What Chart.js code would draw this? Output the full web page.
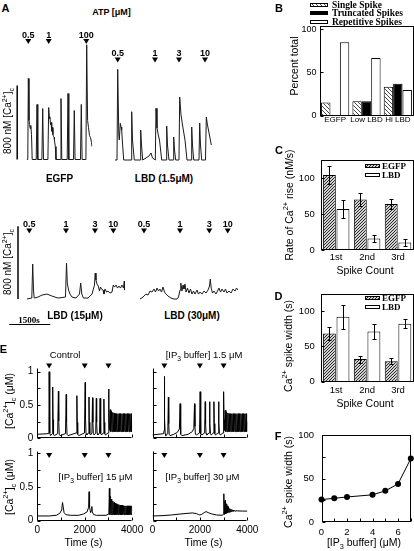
<!DOCTYPE html>
<html><head><meta charset="utf-8"><title>Ca2+ spikes figure</title>
<script src="https://cdn.jsdelivr.net/npm/chart.js@4.4.1/dist/chart.umd.min.js"></script>
<style>
html,body{margin:0;padding:0;background:#fff;}
#fig{position:relative;width:414px;height:551px;overflow:hidden;background:#fff;color:#000;font-family:"Liberation Sans",Arial,Helvetica,sans-serif;}
#fig canvas{position:absolute;}
.t{position:absolute;white-space:nowrap;line-height:1;transform:translate(-50%,-50%);}
.t.r{transform:translate(-50%,-50%) rotate(-90deg);}
.b{font-weight:bold;}
.s{font-family:"Liberation Serif","Times New Roman",serif;}
.t sup,.t sub{font-size:70%;line-height:0;}
</style></head>
<body><div id="fig"></div>
<script>
// ---------------- DATA ----------------
// Panel A: ATP-evoked [Ca2+]c traces, [time (s), [Ca2+] (nM)]
const traceEGFP = [[0,60],[40,60],[60,936],[84,482],[106,438],[128,395],[150,428],[176,330],[201,60],[348,60],[377,655],[406,60],[556,60],[586,611],[615,60],[776,60],[805,622],[834,503],[850,520],[871,438],[890,460],[908,363],[925,400],[944,406],[960,330],[981,309],[1000,300],[1017,265],[1047,200],[1072,60],[1226,60],[1255,719],[1285,60],[1482,60],[1512,773],[1541,60],[1713,60],[1742,590],[1771,60],[1969,60],[1998,655],[2028,60],[2167,60],[2196,1300],[2229,482],[2262,406],[2298,320],[2335,298],[2372,244],[2390,200]];
const traceLBD1_5 = [[0,60],[73,60],[99,1040],[139,330],[157,276],[194,457],[220,417],[245,384],[267,276],[318,60],[586,60],[611,582],[641,276],[706,60],[915,60],[940,384],[970,222],[1014,60],[1135,82],[1244,103],[1318,136],[1372,82],[1475,60],[1501,619],[1537,406],[1585,330],[1629,276],[1709,60],[1867,60],[1892,428],[1921,222],[1976,60],[2123,60],[2148,309],[2178,168],[2222,60],[2342,60],[2368,741],[2416,546],[2489,406],[2562,276],[2635,60],[2782,60],[2807,417],[2837,222],[2880,60],[3074,60],[3100,460],[3129,222],[3173,60],[3312,60],[3342,525],[3386,438],[3441,352],[3477,298],[3525,222]];
const traceLBD15 = [[0,60],[187,71],[220,445],[249,159],[275,71],[414,82],[560,104],[743,115],[926,93],[1146,71],[1420,82],[1457,456],[1486,236],[1530,159],[1585,115],[1658,82],[1804,71],[1932,115],[1976,236],[2017,115],[2079,71],[2244,71],[2390,115],[2481,214],[2507,346],[2536,269],[2573,225],[2621,203],[2664,148],[2701,192],[2738,170],[2793,159],[2829,115],[2866,170],[2921,137],[2976,148],[3048,126],[3122,137],[3169,214],[3213,192],[3268,214],[3323,181],[3378,203],[3433,181],[3488,214],[3543,181],[3572,258],[3587,159]];
const traceLBD30 = [[0,60],[110,82],[220,115],[293,104],[366,148],[439,137],[512,170],[567,137],[622,181],[677,148],[732,170],[787,137],[842,192],[897,137],[952,115],[1025,93],[1135,71],[1244,60],[1354,60],[1409,82],[1464,159],[1493,236],[1537,148],[1574,214],[1610,170],[1647,225],[1684,137],[1739,181],[1793,126],[1848,170],[1903,115],[1958,148],[2013,115],[2086,159],[2141,115],[2196,137],[2269,115],[2342,148],[2416,126],[2489,159],[2544,203],[2573,280],[2606,181],[2654,126],[2708,148],[2782,115],[2837,148],[2891,181],[2946,137],[3001,170],[3074,137],[3129,170],[3184,126],[3257,148],[3331,126],[3404,170],[3477,148],[3532,181],[3587,159]];
// ATP additions (time s) and concentrations (uM)
const atpEGFP = [59, 805, 2181];
const atpEGFPLabels = ['0.5', '1', '100'];
const atpLBD1_5 = [99, 1464, 2342, 3294];
const atpLBD15 = [95, 1438, 2500, 3170];
const atpLBD30 = [146, 1464, 2536, 3210];
const atpLBDLabels = ['0.5', '1', '3', '10'];

// Panel B: percent of cells
const bCategories = ['EGFP', 'Low LBD', 'Hi LBD'];
const bSingle = [15, 16.7, 33.3];
const bTruncated = [0, 16.7, 37];
const bRepetitive = [85, 66.7, 29.7];
const bTicks = [0, 50, 100];

// Panels C, D: by spike count
const spikeCats = ['1st', '2nd', '3rd'];
const cEGFP = [104, 70, 64];
const cEGFPErr = [12, 9, 7.5];
const cLBD = [57, 16, 10.5];
const cLBDErr = [13, 4.5, 4.5];
const dEGFP = [68, 32, 29];
const dEGFPErr = [9, 5, 4];
const dLBD = [92, 71, 82];
const dLBDErr = [17, 10, 6];
const cdTicks = [0, 50, 100];

// Panel E: simulated [Ca2+]c traces, [time (s), [Ca2+] (uM)]
const eControl = [[0,0.06],[470,0.07],[490,0.12],[500,1.0],[515,0.35],[535,0.08],[560,0.04],[630,0.07],[650,0.77],[665,0.28],[685,0.06],[720,0.04],[860,0.07],[890,0.71],[905,0.26],[925,0.06],[960,0.04],[1190,0.07],[1220,0.66],[1235,0.24],[1255,0.06],[1300,0.04],[1640,0.08],[1670,0.64],[1685,0.24],[1705,0.06],[1750,0.04],[1990,0.08],[2020,0.84],[2035,0.3],[2055,0.07],[2090,0.05],[2155,0.08],[2180,0.62],[2195,0.24],[2215,0.07],[2245,0.05],[2305,0.08],[2330,0.61],[2345,0.24],[2365,0.07],[2395,0.05],[2465,0.08],[2490,0.6],[2505,0.24],[2525,0.07],[2555,0.05],[2625,0.08],[2650,0.6],[2665,0.24],[2685,0.07],[2715,0.05],[2785,0.08],[2810,0.59],[2825,0.24],[2845,0.07],[2875,0.05],[2985,0.08],[3010,0.74],[3025,0.3],[3045,0.12],[3075,0.43],[3100,0.1],[3130,0.41],[3155,0.1],[3185,0.39],[3210,0.1],[3240,0.38],[3265,0.1],[3295,0.37],[3320,0.1],[3350,0.37],[3375,0.1],[3405,0.37],[3430,0.1],[3460,0.37],[3485,0.1],[3515,0.37],[3540,0.1],[3570,0.37],[3595,0.1],[3625,0.37],[3650,0.1],[3680,0.37],[3705,0.1],[3735,0.37],[3760,0.1],[3790,0.37],[3815,0.1],[3845,0.37],[3870,0.1],[3900,0.37],[3925,0.1],[3955,0.37],[3980,0.1],[4000,0.22]];
const eBuf1_5 = [[0,0.05],[470,0.07],[490,0.12],[500,0.93],[515,0.3],[535,0.07],[560,0.04],[645,0.07],[670,0.62],[685,0.22],[705,0.06],[740,0.04],[900,0.06],[1050,0.09],[1135,0.14],[1164,0.52],[1180,0.18],[1200,0.06],[1240,0.04],[1500,0.06],[1680,0.1],[1745,0.15],[1772,0.52],[1790,0.18],[1810,0.06],[1850,0.05],[1985,0.08],[2010,0.7],[2025,0.26],[2045,0.07],[2080,0.05],[2200,0.08],[2224,0.55],[2240,0.22],[2260,0.07],[2290,0.05],[2385,0.08],[2408,0.55],[2425,0.22],[2445,0.07],[2475,0.05],[2565,0.08],[2591,0.55],[2608,0.22],[2628,0.07],[2658,0.05],[2765,0.08],[2789,0.55],[2805,0.22],[2825,0.07],[2855,0.05],[2975,0.08],[3001,0.7],[3018,0.28],[3040,0.12],[3070,0.42],[3097,0.1],[3125,0.39],[3152,0.1],[3180,0.38],[3207,0.1],[3235,0.37],[3262,0.1],[3290,0.37],[3317,0.1],[3345,0.37],[3372,0.1],[3400,0.37],[3427,0.1],[3455,0.37],[3482,0.1],[3510,0.37],[3537,0.1],[3565,0.37],[3592,0.1],[3620,0.37],[3647,0.1],[3675,0.37],[3702,0.1],[3730,0.37],[3757,0.1],[3785,0.37],[3812,0.1],[3840,0.37],[3867,0.1],[3895,0.37],[3922,0.1],[3950,0.37],[3977,0.1],[4000,0.25]];
const eBuf15 = [[0,0.07],[500,0.07],[800,0.08],[950,0.11],[1030,0.16],[1065,0.27],[1090,0.21],[1130,0.12],[1200,0.09],[1400,0.08],[1750,0.08],[1950,0.1],[2100,0.13],[2165,0.2],[2185,0.43],[2205,0.2],[2250,0.12],[2285,0.15],[2300,0.21],[2320,0.13],[2380,0.09],[2500,0.08],[2900,0.08],[3020,0.1],[3040,0.48],[3060,0.09],[3090,0.36],[3110,0.09],[3140,0.32],[3160,0.09],[3190,0.29],[3210,0.09],[3240,0.27],[3260,0.09],[3290,0.26],[3310,0.09],[3340,0.25],[3360,0.09],[3390,0.24],[3410,0.09],[3440,0.24],[3460,0.09],[3490,0.23],[3510,0.09],[3540,0.23],[3560,0.09],[3590,0.23],[3610,0.09],[3640,0.22],[3660,0.09],[3690,0.22],[3710,0.09],[3740,0.22],[3760,0.09],[3790,0.22],[3810,0.09],[3840,0.22],[3860,0.09],[3890,0.22],[3910,0.09],[3940,0.22],[3960,0.09],[3990,0.22],[4000,0.15]];
const eBuf30 = [[0,0.07],[400,0.075],[800,0.085],[1200,0.1],[1500,0.11],[1700,0.115],[1850,0.105],[1950,0.09],[2000,0.085],[2080,0.095],[2180,0.12],[2260,0.135],[2350,0.12],[2500,0.1],[2700,0.085],[2950,0.08],[2995,0.1],[3010,0.4],[3030,0.09],[3060,0.3],[3082,0.1],[3110,0.25],[3132,0.11],[3160,0.22],[3182,0.12],[3210,0.2],[3232,0.125],[3260,0.18],[3282,0.13],[3310,0.17],[3332,0.135],[3360,0.16],[3382,0.14],[3410,0.155],[3432,0.14],[3460,0.15],[3482,0.143],[3520,0.147],[3600,0.145],[3800,0.143],[4000,0.142]];
const eArrows = [500, 2000, 3000];
const eYLabels = [0, 0.5, 1];
const eYMinor = [0, 0.25, 0.5, 0.75, 1];
const eXLabels = [0, 2000, 4000];
const eXMinor = [0, 1000, 2000, 3000, 4000];

// Panel F
const fBuffer = [0, 1, 2, 4, 5, 6, 7];
const fWidth = [26, 27.5, 29, 31.5, 36, 44, 73];
const fXLabels = [0, 2, 4, 6];
const fXMinor = [0, 1, 2, 3, 4, 5, 6, 7];
const fYLabels = [0, 50, 100];
const fYMinor = [0, 25, 50, 75, 100];

// ---------------- LAYOUT CONSTANTS ----------------
const SEC_PX = 36.6;      // panel A: seconds per pixel (1500 s bar)
const NM_PX_TOP = 10.81;  // panel A top row: nM per pixel
const NM_PX_BOT = 11;     // panel A bottom row: nM per pixel

// ---------------- HELPERS ----------------
const fig = document.getElementById('fig');
Chart.defaults.font.family = '"Liberation Sans", Arial, Helvetica, sans-serif';
Chart.defaults.color = '#000';

function cv(L, T, W, H) {
  const c = document.createElement('canvas');
  c.width = W; c.height = H;
  c.style.left = L + 'px'; c.style.top = T + 'px';
  c.style.width = W + 'px'; c.style.height = H + 'px';
  fig.appendChild(c);
  return c;
}
function txt(html, x, y, size, cls) {
  const d = document.createElement('div');
  d.className = 't ' + (cls || '');
  d.style.left = x + 'px'; d.style.top = y + 'px'; d.style.fontSize = size + 'px';
  d.innerHTML = html;
  fig.appendChild(d);
}
const xy = pairs => pairs.map(p => ({x: p[0], y: p[1]}));
function hatch(bg, fg, s, fwd) {
  const c = document.createElement('canvas'); c.width = c.height = s;
  const g = c.getContext('2d');
  g.fillStyle = bg; g.fillRect(0, 0, s, s);
  g.strokeStyle = fg; g.lineWidth = 1; g.beginPath();
  for (const o of [-s, 0, s]) {
    if (fwd) { g.moveTo(o, s); g.lineTo(o + s, 0); } else { g.moveTo(o, 0); g.lineTo(o + s, s); }
  }
  g.stroke();
  return g.createPattern(c, 'repeat');
}

const deco = { id: 'deco', afterDatasetsDraw(chart, args, o) {
  if (!o) return;
  const ctx = chart.ctx, a = chart.chartArea, xs = chart.scales.x, ys = chart.scales.y;
  const L = Math.round(a.left) + .5, R = Math.round(a.right) - .5, T = Math.round(a.top) + .5, B = Math.round(a.bottom) - .5;
  ctx.save(); ctx.strokeStyle = '#000'; ctx.fillStyle = '#000'; ctx.lineWidth = 1;
  const seg = (x1, y1, x2, y2) => { ctx.beginPath(); ctx.moveTo(x1, y1); ctx.lineTo(x2, y2); ctx.stroke(); };
  if (o.box) ctx.strokeRect(L, T, R - L, B - T);
  if (o.axes) { seg(L, T, L, B); seg(L, B, R, B); }
  const tk = o.tick || 3;
  if (o.yTicks) o.yTicks.forEach(v => { const y = Math.round(ys.getPixelForValue(v)) + .5; seg(L, y, L + tk, y); });
  if (o.xTicks) o.xTicks.forEach(v => { const x = Math.round(xs.getPixelForValue(v)) + .5; seg(x, B, x, B - tk); });
  if (o.bar) { ctx.lineWidth = 1.5; const x = a.left - o.bar.dx; seg(x, ys.getPixelForValue(o.bar.from), x, ys.getPixelForValue(o.bar.to)); ctx.lineWidth = 1; }
  if (o.tbar) { const y = Math.round(a.bottom + o.tbar.dy) + .5; seg(xs.getPixelForValue(o.tbar.from), y, xs.getPixelForValue(o.tbar.to), y); }
  if (o.arrows) {
    const tipY = ys.getPixelForValue(o.arrowY);
    o.arrows.forEach((t, i) => {
      const x = xs.getPixelForValue(t);
      ctx.beginPath(); ctx.moveTo(x - 3, tipY - 5); ctx.lineTo(x + 3, tipY - 5); ctx.lineTo(x, tipY); ctx.closePath(); ctx.fill();
      if (o.labels) { ctx.font = o.font; ctx.textAlign = 'center'; ctx.textBaseline = 'alphabetic'; ctx.fillText(o.labels[i], x, tipY - 6.5); }
    });
  }
  ctx.restore();
}};
const swatches = { id: 'swatches', afterDraw(chart, args, o) {
  if (!o || !o.ys) return;
  const ctx = chart.ctx; ctx.save();
  chart.data.datasets.forEach((ds, i) => {
    const y = o.ys[i], top = Math.round(y - o.h / 2);
    ctx.fillStyle = ds.backgroundColor; ctx.fillRect(o.x, top, o.w, o.h);
    ctx.strokeStyle = '#000'; ctx.lineWidth = 1; ctx.strokeRect(o.x + .5, top + .5, o.w - 1, o.h - 1);
    ctx.fillStyle = '#000'; ctx.font = o.font; ctx.textAlign = 'left'; ctx.textBaseline = 'middle';
    ctx.fillText(ds.label, o.x + o.w + o.gap, y + .5);
  });
  ctx.restore();
}};
const errbars = { id: 'errbars', afterDatasetsDraw(chart, args, o) {
  if (!o || !o.errors) return;
  const ctx = chart.ctx, ys = chart.scales.y; ctx.save(); ctx.strokeStyle = '#000'; ctx.lineWidth = 1;
  chart.data.datasets.forEach((ds, i) => {
    chart.getDatasetMeta(i).data.forEach((bar, j) => {
      const v = ds.data[j], e = o.errors[i][j];
      const x = Math.round(bar.x) + .5, y1 = Math.round(ys.getPixelForValue(v + e)) + .5, y2 = Math.round(ys.getPixelForValue(v - e)) + .5;
      ctx.beginPath(); ctx.moveTo(x, y1); ctx.lineTo(x, y2);
      ctx.moveTo(x - o.cap, y1); ctx.lineTo(x + o.cap, y1);
      ctx.moveTo(x - o.cap, y2); ctx.lineTo(x + o.cap, y2); ctx.stroke();
    });
  });
  ctx.restore();
}};

function hidden(min, max) { return {type: 'linear', display: false, min, max}; }
function linAxis(min, max, labels, size, padding) {
  return {type: 'linear', display: true, min, max, grid: {display: false, drawTicks: false}, border: {display: false},
    ticks: {font: {size}, padding, color: '#000', callback: v => String(v)},
    afterBuildTicks: s => { s.ticks = labels.map(v => ({value: v})); }};
}
function catAxis(size, padding) {
  return {type: 'category', display: true, grid: {display: false, drawTicks: false}, border: {display: false},
    ticks: {font: {size}, padding, color: '#000', autoSkip: false, maxRotation: 0, minRotation: 0}};
}
function chartAt(box, area, type, data, xOpt, yOpt, plug, dsOpts) {
  const [L, T, W, H] = box, [ax, ay, aw, ah] = area;
  const c = cv(L, T, W, H);
  const leftW = ax - L, botH = T + H - (ay + ah);
  const pad = {top: ay - T, right: L + W - (ax + aw), left: yOpt.display ? 0 : leftW, bottom: xOpt.display ? 0 : botH};
  const zero = s => { s.paddingTop = 0; s.paddingBottom = 0; s.paddingLeft = 0; s.paddingRight = 0; };
  if (yOpt.display) yOpt.afterFit = s => { s.width = leftW; zero(s); };
  if (xOpt.display) xOpt.afterFit = s => { s.height = botH; zero(s); };
  return new Chart(c, {
    type, data,
    options: {
      responsive: false, maintainAspectRatio: false, animation: false, devicePixelRatio: 1, events: [],
      layout: {padding: pad, autoPadding: false},
      scales: {x: xOpt, y: yOpt},
      datasets: dsOpts || {},
      plugins: Object.assign({legend: {display: false}, tooltip: {enabled: false}}, plug)
    },
    plugins: [deco, swatches, errbars]
  });
}
const traceDS = pts => ({data: xy(pts), borderColor: '#1a1a1a', borderWidth: 1, pointRadius: 0, borderJoinStyle: 'round', fill: false});
const eDS = pts => ({data: xy(pts), borderColor: '#000', borderWidth: 1, pointRadius: 0, borderJoinStyle: 'round', fill: false});

// ---------------- PANEL A ----------------
const aFont = 'bold 9px "Liberation Sans", Arial, sans-serif';
chartAt([0, 20, 96, 150], [26.7, 30, 2400 / SEC_PX, 1460 / NM_PX_TOP], 'line', {datasets: [traceDS(traceEGFP)]},
  hidden(0, 2400), hidden(0, 1460),
  {deco: {arrows: atpEGFP, labels: atpEGFPLabels, arrowY: 1308, font: aFont, bar: {from: 60, to: 860, dx: 9.5}}});
chartAt([110, 20, 106, 150], [115, 30.5, 3550 / SEC_PX, 1460 / NM_PX_TOP], 'line', {datasets: [traceDS(traceLBD1_5)]},
  hidden(0, 3550), hidden(0, 1460),
  {deco: {arrows: atpLBD1_5, labels: atpLBDLabels, arrowY: 1113, font: aFont}});
chartAt([0, 208, 130, 122], [26.7, 213.6, 3600 / SEC_PX, 1000 / NM_PX_BOT], 'line', {datasets: [traceDS(traceLBD15)]},
  hidden(0, 3600), hidden(0, 1000),
  {deco: {arrows: atpLBD15, labels: atpLBDLabels, arrowY: 781, font: aFont, bar: {from: 60, to: 860, dx: 8.7}, tbar: {from: -640, to: 860, dy: 19.5}}});
chartAt([132, 208, 112, 102], [140, 213.6, 3600 / SEC_PX, 1000 / NM_PX_BOT], 'line', {datasets: [traceDS(traceLBD30)]},
  hidden(0, 3600), hidden(0, 1000),
  {deco: {arrows: atpLBD30, labels: atpLBDLabels, arrowY: 781, font: aFont}});

// ---------------- PANEL B ----------------
const hatchB = hatch('#ffffff', '#4a4a4a', 4, false);
chartAt([280, 0, 134, 130], [319.5, 26, 94, 89.5], 'bar', {labels: bCategories, datasets: [
    {label: 'Single Spike', data: bSingle, backgroundColor: hatchB, borderColor: '#000', borderWidth: 1},
    {label: 'Truncated Spikes', data: bTruncated, backgroundColor: '#000', borderColor: '#000', borderWidth: 1},
    {label: 'Repetitive Spikes', data: bRepetitive, backgroundColor: '#fff', borderColor: '#000', borderWidth: 1}]},
  catAxis(8, -1), linAxis(0, 104, bTicks, 9, 3),
  {deco: {box: true, yTicks: bTicks, tick: 3}, swatches: {x: 30, w: 18, h: 4, gap: 4, ys: [5, 13.3, 21.7], font: 'bold 9.5px "Liberation Serif", "Times New Roman", serif'}},
  {bar: {categoryPercentage: 0.9, barPercentage: 1}});

// ---------------- PANELS C, D ----------------
const hatchCD = hatch('#d0d0d0', '#2a2a2a', 3, true);
const legFont = 'bold 9px "Liberation Serif", "Times New Roman", serif';
chartAt([296, 150, 118, 115], [320.7, 160, 92.8, 90], 'bar', {labels: spikeCats, datasets: [
    {label: 'EGFP', data: cEGFP, backgroundColor: hatchCD, borderColor: '#000', borderWidth: 1},
    {label: 'LBD', data: cLBD, backgroundColor: '#fff', borderColor: '#000', borderWidth: 1}]},
  catAxis(9.5, 2), linAxis(0, 125, cdTicks, 9.5, 6),
  {deco: {box: true, yTicks: cdTicks, tick: 3}, swatches: {x: 69, w: 15, h: 4, gap: 2, ys: [16, 25], font: legFont}, errbars: {errors: [cEGFPErr, cLBDErr], cap: 2}},
  {bar: {categoryPercentage: 0.88, barPercentage: 0.95}});
chartAt([296, 285, 118, 112], [320.7, 294, 92.8, 87.7], 'bar', {labels: spikeCats, datasets: [
    {label: 'EGFP', data: dEGFP, backgroundColor: hatchCD, borderColor: '#000', borderWidth: 1},
    {label: 'LBD', data: dLBD, backgroundColor: '#fff', borderColor: '#000', borderWidth: 1}]},
  catAxis(9.5, 3.3), linAxis(0, 124, cdTicks, 9.5, 6),
  {deco: {box: true, yTicks: cdTicks, tick: 3}, swatches: {x: 69, w: 15, h: 4, gap: 2, ys: [13, 21.7], font: legFont}, errbars: {errors: [dEGFPErr, dLBDErr], cap: 2}},
  {bar: {categoryPercentage: 0.88, barPercentage: 0.95}});

// ---------------- PANEL E ----------------
const eDeco = y => ({axes: true, yTicks: eYMinor, xTicks: eXMinor, tick: 3, arrows: eArrows, arrowY: y});
chartAt([10, 358, 128, 92], [37.3, 368.4, 94.8, 69.9], 'line', {datasets: [eDS(eControl)]},
  hidden(0, 4000), linAxis(0, 1.05, eYLabels, 10, 4), {deco: eDeco(1.05)});
chartAt([145, 358, 106, 92], [152.5, 368.4, 94.8, 69.9], 'line', {datasets: [eDS(eBuf1_5)]},
  hidden(0, 4000), hidden(0, 1.05), {deco: eDeco(1.05)});
chartAt([10, 440, 135, 100], [37.3, 451.3, 94.8, 69.4], 'line', {datasets: [eDS(eBuf15)]},
  linAxis(0, 4000, eXLabels, 10, 3.3), linAxis(0, 1.03, eYLabels, 10, 4), {deco: eDeco(0.93)});
chartAt([145, 440, 115, 100], [152.5, 451.3, 94.8, 69.4], 'line', {datasets: [eDS(eBuf30)]},
  linAxis(0, 4000, eXLabels, 10, 3.3), hidden(0, 1.03), {deco: eDeco(0.93)});

// ---------------- PANEL F ----------------
chartAt([296, 428, 118, 110], [321.5, 435, 89.3, 87.3], 'line', {datasets: [{
    data: fBuffer.map((x, i) => ({x, y: fWidth[i]})), borderColor: '#000', borderWidth: 1,
    pointRadius: 3, pointBackgroundColor: '#000', pointBorderWidth: 0, clip: false}]},
  linAxis(0, 7, fXLabels, 9.5, 4), linAxis(0, 100, fYLabels, 9.5, 7.5),
  {deco: {box: true, yTicks: fYMinor, xTicks: fXMinor, tick: 3}});

// ---------------- TEXT ----------------
txt('A', 5.5, 7.5, 11, 'b');
txt('ATP [μM]', 111.5, 12, 9, 'b');
txt('800 nM [Ca<sup>2+</sup>]<sub>c</sub>', 8, 121, 10, 'r');
txt('EGFP', 59.5, 178.5, 10, 'b');
txt('LBD (1.5μM)', 164, 178.5, 10, 'b');
txt('800 nM [Ca<sup>2+</sup>]<sub>c</sub>', 8, 262, 10, 'r');
txt('LBD (15μM)', 75, 315.5, 10, 'b');
txt('LBD (30μM)', 192, 315.5, 10, 'b');
txt('1500s', 29, 319.5, 9, 'b s');

txt('B', 279, 7.5, 11, 'b');
txt('Percent total', 294, 66, 10.5, 'r');
txt('C', 279, 150, 11, 'b');
txt('Rate of Ca<sup>2+</sup> rise (nM/s)', 288.5, 205, 10.5, 'r');
txt('Spike Count', 365, 270, 10.5);
txt('D', 278.5, 295.5, 11, 'b');
txt('Ca<sup>2+</sup> spike width (s)', 288, 346, 10.5, 'r');
txt('Spike Count', 365, 402.7, 10.5);

txt('E', 3.5, 348.5, 11, 'b');
txt('Control', 65, 355, 9.5);
txt('[IP<sub>3</sub> buffer] 1.5 μM', 204, 355, 9.5);
txt('[IP<sub>3</sub> buffer] 15 μM', 95.5, 476.7, 9.5);
txt('[IP<sub>3</sub> buffer] 30 μM', 202.5, 476.7, 9.5);
txt('[Ca<sup>2+</sup>]<sub>c</sub> (μM)', 8.5, 401, 10.5, 'r');
txt('[Ca<sup>2+</sup>]<sub>c</sub> (μM)', 8.5, 487, 10.5, 'r');
txt('Time (s)', 83.5, 541.7, 10.5);
txt('Time (s)', 203.5, 541.7, 10.5);

txt('F', 278, 435.5, 11, 'b');
txt('Ca<sup>2+</sup> spike width (s)', 288, 482, 10.5, 'r');
txt('[IP<sub>3</sub> buffer] (μM)', 364, 541.7, 10.5);
</script></body></html>
